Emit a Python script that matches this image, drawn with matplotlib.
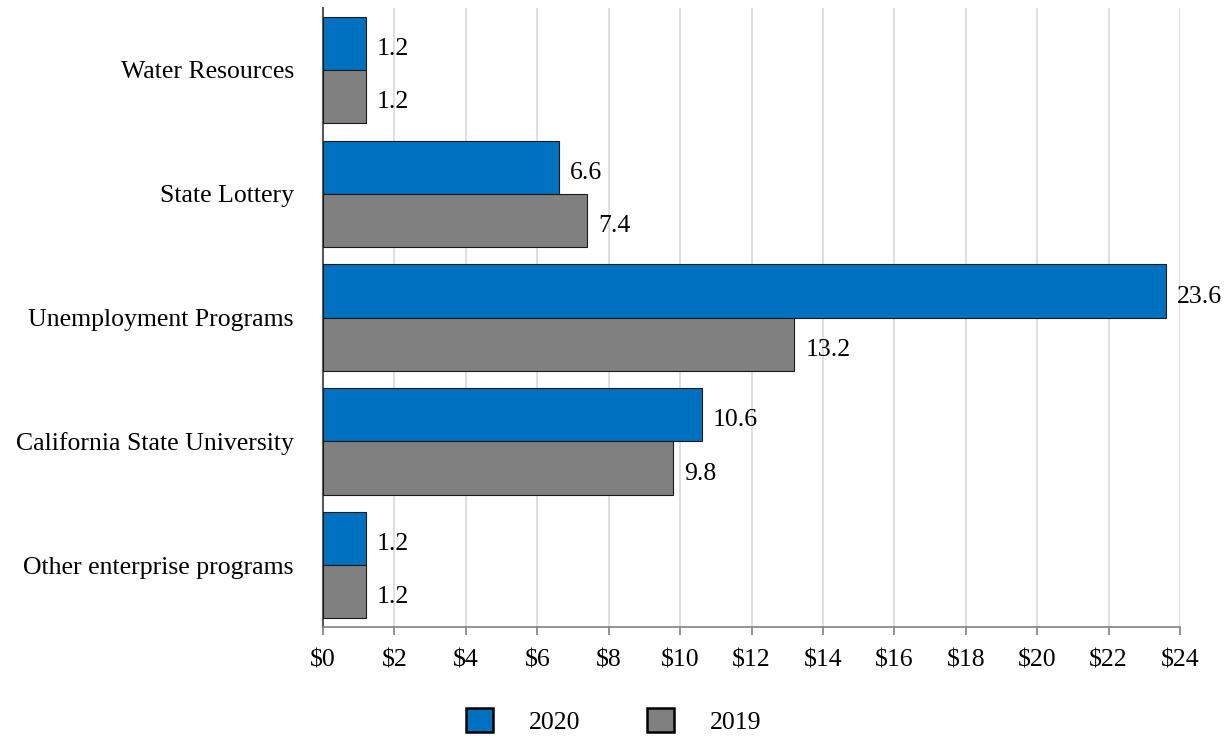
import numpy as np
import matplotlib
matplotlib.use('Agg')
import matplotlib.pyplot as plt
from matplotlib.ticker import FuncFormatter

plt.rcParams['font.family'] = ['Liberation Serif', 'DejaVu Serif']

#data
categories = ['Water Resources', 'State Lottery', 'Unemployment Programs',
              'California State University', 'Other enterprise programs']
values_2020 = [1.2, 6.6, 23.6, 10.6, 1.2]
values_2019 = [1.2, 7.4, 13.2, 9.8, 1.2]
series_names = ['2020', '2019']
colors = ['#0070C0', '#808080']

fs = 18.5
fig = plt.figure(figsize=(12.28, 7.36), dpi=100)
ax = fig.add_axes([0.263, 0.148, 0.698, 0.841])

y = np.arange(len(categories))
h = 0.43
bars1 = ax.barh(y - h / 2, values_2020, height=h, color=colors[0],
                edgecolor='#1a1a1a', linewidth=0.8, label=series_names[0], zorder=3)
bars2 = ax.barh(y + h / 2, values_2019, height=h, color=colors[1],
                edgecolor='#1a1a1a', linewidth=0.8, label=series_names[1], zorder=3)

for bars, vals in [(bars1, values_2020), (bars2, values_2019)]:
    for b, v in zip(bars, vals):
        ax.annotate(f'{v:.1f}', (v, b.get_y() + b.get_height() / 2),
                    xytext=(8, -4), textcoords='offset points',
                    va='center', ha='left', fontsize=fs)

ax.set_ylim(len(categories) - 0.5, -0.5)
ax.set_xlim(0, 24)
ax.set_xticks(np.arange(0, 25, 2))
ax.xaxis.set_major_formatter(FuncFormatter(lambda x, p: f'${x:.0f}'))
ax.set_yticks(y)
ax.set_yticklabels(categories)
ax.tick_params(axis='y', length=0, pad=21, labelsize=fs)
ax.tick_params(axis='x', length=6, width=1.2, color='#808080', pad=10, labelsize=fs)
ax.grid(axis='x', color='#d9d9d9', linewidth=1.2, zorder=0)
for s in ['top', 'right']:
    ax.spines[s].set_visible(False)
ax.spines['left'].set_color('#595959')
ax.spines['left'].set_linewidth(1.5)
ax.spines['bottom'].set_color('#808080')
ax.spines['bottom'].set_linewidth(1.2)

leg = fig.legend(loc='center', bbox_to_anchor=(0.5, 0.02), ncol=2,
                 frameon=False, fontsize=fs, handlelength=1.05, handleheight=1.05,
                 handletextpad=1.4, columnspacing=2.6, borderpad=0)
for p in leg.get_patches():
    p.set_linewidth(1.8)
    p.set_edgecolor('black')

fig.savefig('out.png', dpi=100)
